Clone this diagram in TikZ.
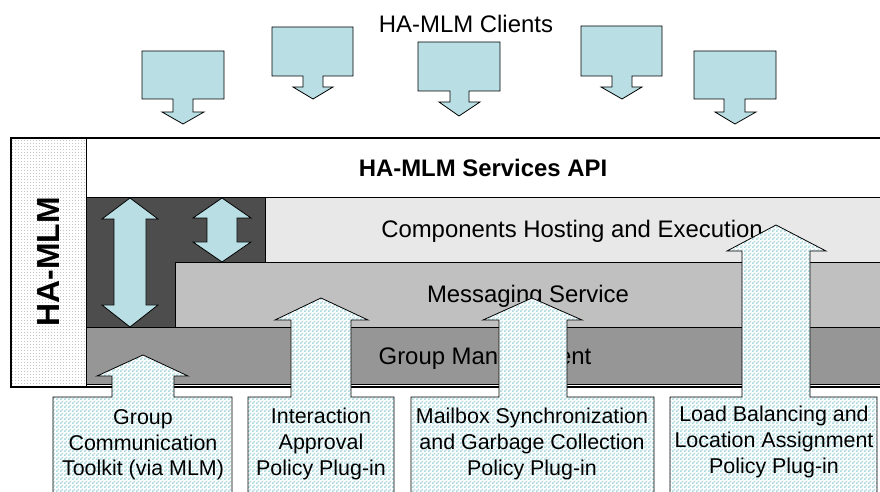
\documentclass[tikz,border=0pt]{standalone}
\usepackage{fontspec}
\setmainfont{Liberation Sans}
\usetikzlibrary{patterns}
\definecolor{clientblue}{RGB}{185,223,228}
\definecolor{plugblue}{RGB}{170,218,223}
\definecolor{coredark}{RGB}{77,77,77}
\definecolor{hostgray}{RGB}{232,232,232}
\definecolor{msggray}{RGB}{192,192,192}
\definecolor{grpgray}{RGB}{150,150,150}
% finer tiles than the stock ones
\pgfdeclarepatternformonly{finechecker}{\pgfpointorigin}{\pgfqpoint{4bp}{4bp}}{\pgfqpoint{4bp}{4bp}}{%
  \pgfpathrectangle{\pgfpointorigin}{\pgfqpoint{2bp}{2bp}}%
  \pgfpathrectangle{\pgfqpoint{2bp}{2bp}}{\pgfqpoint{2bp}{2bp}}%
  \pgfusepath{fill}}
\pgfdeclarepatternformonly{finedots}{\pgfpointorigin}{\pgfqpoint{3bp}{3bp}}{\pgfqpoint{3bp}{3bp}}{%
  \pgfpathrectangle{\pgfpointorigin}{\pgfqpoint{1bp}{1bp}}%
  \pgfusepath{fill}}
\tikzset{
  layer/.style = {draw=black, line width=0.8bp},
  client/.style = {draw=black, fill=clientblue, line width=0.8bp},
  plugin/.style = {draw=black, line width=0.8bp, preaction={fill=white},
                   pattern=finechecker, pattern color=plugblue},
  layertext/.style = {inner sep=0pt, font=\fontsize{24}{28}\selectfont},
  plugtext/.style = {inner sep=0pt, align=center,
                     font=\fontsize{21.5}{25.7}\selectfont}
}

\begin{document}
\begin{tikzpicture}[x=1bp, y=-1bp]
	\useasboundingbox (0,0) rectangle (880,492);
	\clip (0,0) rectangle (880,492);
	
	% Clients
	\node[layertext] (clients) at (466,24) {HA-MLM Clients};
	\draw[client] (142,51) -- (224,51) -- (224,99) -- (193,99) -- (193,112) -- (204,112) -- (183,124) -- (162,112) -- (173,112) -- (173,99) -- (142,99) -- cycle; % client 1
	\draw[client] (272,27) -- (353,27) -- (353,76) -- (323,76) -- (323,87) -- (333,87) -- (313,99) -- (293,87) -- (303,87) -- (303,76) -- (272,76) -- cycle; % client 2
	\draw[client] (418,42) -- (500,42) -- (500,91) -- (469,91) -- (469,102) -- (480,102) -- (459,116) -- (439,102) -- (450,102) -- (450,91) -- (418,91) -- cycle; % client 3
	\draw[client] (581,26) -- (662,26) -- (662,76) -- (632,76) -- (632,87) -- (642,87) -- (622,99) -- (601,87) -- (612,87) -- (612,76) -- (581,76) -- cycle; % client 4
	\draw[client] (694,51) -- (776,51) -- (776,99) -- (745,99) -- (745,112) -- (756,112) -- (735,124) -- (715,112) -- (724,112) -- (724,99) -- (694,99) -- cycle; % client 5
	
	% HA-MLM frame (right side runs off the page)
	\fill[white] (11,138) rectangle (895,387);
	\draw[layer, pattern=finedots, pattern color=gray!45] (11,138) rectangle (86,387);
	
	% Layers
	\draw[layer, fill=coredark] (86,197) rectangle (265,327);
	\fill[hostgray] (265,197) rectangle (895,262); % hosting
	\fill[msggray]  (175,262) rectangle (895,327); % messaging
	\fill[grpgray]  (86,327)  rectangle (895,384); % group
	\draw[layer] (895,197) -- (265,197) -- (265,262) -- (895,262);
	\draw[layer] (895,262) -- (175,262) -- (175,327) -- (895,327);
	\draw[layer] (895,327) -- (86,327) -- (86,384) -- (895,384);
	\draw[line width=2.2bp] (895,138) -- (11,138) -- (11,387) -- (895,387);
	
	% Internal arrows
	\draw[client] (130,198) -- (158,219) -- (146,219) -- (146,305) -- (158,305) -- (130,327) -- (102,305) -- (114,305) -- (114,219) -- (102,219) -- cycle;
	\draw[client] (222,198) -- (251,218) -- (237,218) -- (237,242) -- (251,242) -- (222,262) -- (193,242) -- (207,242) -- (207,218) -- (193,218) -- cycle;
	
	% Layer names
	\node[layertext, font=\fontsize{32}{36}\selectfont\bfseries, rotate=90] (hamlm) at (49,262) {HA-MLM};
	\node[layertext, font=\fontsize{24}{28}\selectfont\bfseries, anchor=base] (api) at (483,177) {HA-MLM Services API};
	\node[layertext, anchor=base] (hosting) at (572,238) {Components Hosting and Execution};
	\node[layertext, anchor=base] (messaging) at (528,303) {Messaging Service};
	\node[layertext, anchor=base] (groupmgmt) at (485,364) {Group Management};
	
	% Plug-ins
	\draw[plugin] (53,500) -- (53,397) -- (112,397) -- (112,376) -- (97,376) -- (143,355) -- (188,376) -- (174,376) -- (174,397) -- (232,397) -- (232,500) -- cycle;
	\draw[plugin] (248,500) -- (248,397) -- (291,397) -- (291,320) -- (275,320) -- (321,298) -- (368,320) -- (351,320) -- (351,397) -- (394,397) -- (394,500) -- cycle;
	\draw[plugin] (411,500) -- (411,397) -- (499,397) -- (499,320) -- (483,320) -- (532,298) -- (582,320) -- (567,320) -- (567,397) -- (654,397) -- (654,500) -- cycle;
	\draw[plugin] (670,500) -- (670,397) -- (742,397) -- (742,251) -- (727,251) -- (776,225) -- (826,251) -- (810,251) -- (810,397) -- (877,397) -- (877,500) -- cycle;
	
	\node[plugtext] (gct)  at (143,445) {Group\\Communication\\Toolkit (via MLM)};
	\node[plugtext] (iapp) at (321,444) {Interaction\\Approval\\Policy Plug-in};
	\node[plugtext] (mbox) at (532,444) {Mailbox Synchronization\\and Garbage Collection\\Policy Plug-in};
	\node[plugtext] (lbal) at (774,442) {Load Balancing and\\Location Assignment\\Policy Plug-in};
	
\end{tikzpicture}
\end{document}
